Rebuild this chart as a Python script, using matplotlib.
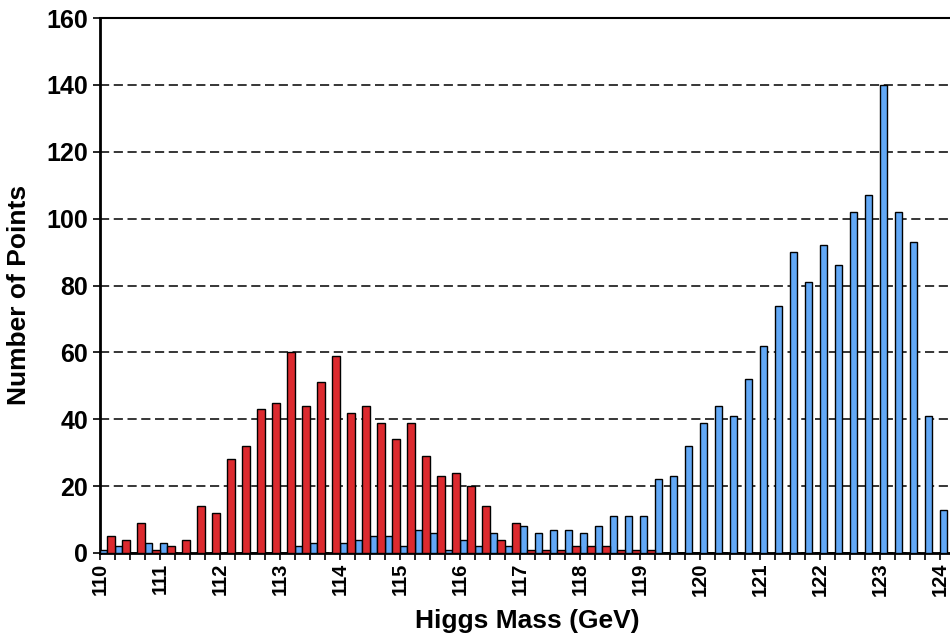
import matplotlib
matplotlib.use("Agg")
import matplotlib.pyplot as plt
import numpy as np

# 0.25 GeV bins starting at 110 GeV
bin_start = 110.0
bin_width = 0.25

red_counts = [5, 4, 9, 1, 2, 4, 14, 12, 28, 32, 43, 45, 60, 44, 51, 59, 42, 44, 39, 34,
              39, 29, 23, 24, 20, 14, 4, 9, 1, 1, 1, 2, 2, 2, 1, 1, 1,
              0, 0, 0, 0, 0, 0, 0, 0, 0, 0, 0, 0, 0, 0, 0, 0, 0, 0, 0, 0]
blue_counts = [1, 2, 0, 3, 3, 0, 0, 0, 0, 0, 0, 0, 0, 2, 3, 0, 3, 4, 5, 5,
               2, 7, 6, 1, 4, 2, 6, 2, 8, 6, 7, 7, 6, 8, 11, 11, 11, 22, 23, 32,
               39, 44, 41, 52, 62, 74, 90, 81, 92, 86, 102, 107, 140, 102, 93, 41, 13]

x_labels = [str(v) for v in range(110, 125)]
y_ticks = list(range(0, 161, 20))

red = '#dc2a2f'
blue = '#62a8f6'

plt.rcParams['font.family'] = ['Liberation Sans', 'DejaVu Sans']
plt.rcParams['font.weight'] = 'bold'

fig = plt.figure(figsize=(9.5, 6.35), dpi=100)
ax = fig.add_axes([100 / 950, 82 / 635, 870 / 950, 535 / 635])

left = bin_start + bin_width * np.arange(len(red_counts))
w = 0.12
ax.bar(left + 0.003, blue_counts, width=w, align='edge', color=blue,
       edgecolor='black', linewidth=1.0, zorder=3)
ax.bar(left + 0.003 + w, red_counts, width=w, align='edge', color=red,
       edgecolor='black', linewidth=1.0, zorder=3)

ax.set_xlim(110, 124.5)
ax.set_ylim(0, 160)
ax.set_yticks(y_ticks)
ax.set_yticklabels([str(v) for v in y_ticks], fontsize=18, fontweight='bold')
ax.set_xticks(np.arange(110, 125))
ax.set_xticklabels(x_labels, rotation=90, fontsize=14.5, fontweight='bold')
ax.set_xticks(left, minor=True)
ax.tick_params(axis='both', which='both', direction='out', length=5, width=1.2)
ax.tick_params(axis='x', pad=2)

ax.yaxis.grid(True, linestyle=(0, (6, 3)), color='black', linewidth=1.1)
ax.set_axisbelow(True)

for s in ['left', 'bottom']:
    ax.spines[s].set_linewidth(2)
ax.spines['top'].set_linewidth(1.5)
ax.spines['right'].set_visible(False)

ax.set_ylabel('Number of Points', fontsize=19, fontweight='bold')
ax.yaxis.set_label_coords((31 - 100) / 870, (553 - 295) / 535)
ax.set_xlabel('Higgs Mass (GeV)', fontsize=19, fontweight='bold')
ax.xaxis.set_label_coords((527 - 100) / 870, (553 - 609) / 535)

fig.savefig('out.png', dpi=100)
